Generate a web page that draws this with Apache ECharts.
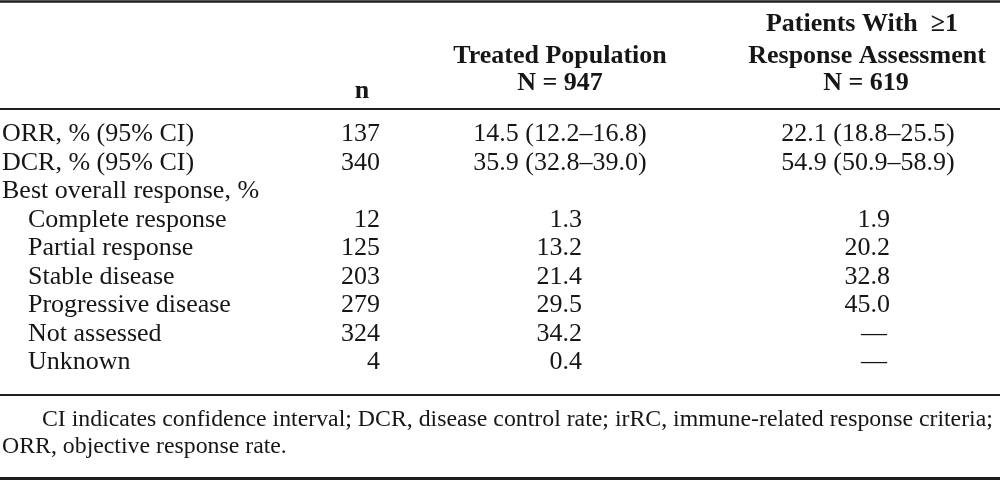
<!DOCTYPE html>
<html>
<head>
<meta charset="utf-8">
<script src="https://cdn.jsdelivr.net/npm/echarts@6/dist/echarts.min.js"></script>
<style>
html,body{margin:0;padding:0;background:#fff;}
#main{width:1000px;height:481px;}
</style>
</head>
<body>
<div id="main"></div>
<script>
// ---- data ----
var rowLabels = ['ORR, % (95% CI)', 'DCR, % (95% CI)', 'Best overall response, %',
  'Complete response', 'Partial response', 'Stable disease', 'Progressive disease',
  'Not assessed', 'Unknown'];
var rowLevel = [0, 0, 0, 1, 1, 1, 1, 1, 1];
var nValues = ['137', '340', '', '12', '125', '203', '279', '324', '4'];
var treatedValues = ['14.5 (12.2–16.8)', '35.9 (32.8–39.0)', '', '1.3', '13.2', '21.4', '29.5', '34.2', '0.4'];
var assessedValues = ['22.1 (18.8–25.5)', '54.9 (50.9–58.9)', '', '1.9', '20.2', '32.8', '45.0', '—', '—'];
var headerN = 'n';
var headerTreated = ['Treated Population', 'N = 947'];
var headerAssessed = ['Patients With  ≥1', 'Response Assessment', 'N = 619'];
var footnote = ['CI indicates confidence interval; DCR, disease control rate; irRC, immune-related response criteria;',
  'ORR, objective response rate.'];

// ---- layout (style only) ----
var FONT = '"Liberation Serif", "DejaVu Serif", serif';
var FS = 26;
var FS_NOTE = 23.8;
var INK = '#161616';
var colX = { label: 2, indent: 28, nRight: 380, tRight: 582, tCenter: 560, aRight: 890, aCenter: 868, aDash: 874 };

var chart = echarts.init(document.getElementById('main'), null, { renderer: 'canvas' });

var data = rowLabels.map(function (l, i) { return [0, i]; });

function cellText(x, y, text, align, bold, size) {
  return {
    type: 'text',
    style: {
      text: text, x: x, y: y,
      align: align, verticalAlign: 'middle',
      textAlign: align, textVerticalAlign: 'middle',
      font: (bold ? 'bold ' : '') + (size || FS) + 'px ' + FONT,
      fill: INK
    }
  };
}

function renderRow(params, api) {
  var i = api.value(1);
  var p = api.coord([0, i]);
  var y = p[1];
  var kids = [];
  kids.push(cellText(rowLevel[i] ? colX.indent : colX.label, y, rowLabels[i], 'left'));
  if (nValues[i]) kids.push(cellText(api.coord([colX.nRight, i])[0], y, nValues[i], 'right'));
  var t = treatedValues[i];
  if (t) {
    if (t.indexOf('(') >= 0) kids.push(cellText(api.coord([colX.tCenter, i])[0], y, t, 'center'));
    else kids.push(cellText(api.coord([colX.tRight, i])[0], y, t, 'right'));
  }
  var a = assessedValues[i];
  if (a) {
    if (a.indexOf('(') >= 0) kids.push(cellText(api.coord([colX.aCenter, i])[0], y, a, 'center'));
    else if (a === '—') kids.push(cellText(api.coord([colX.aDash, i])[0], y, a, 'center'));
    else kids.push(cellText(api.coord([colX.aRight, i])[0], y, a, 'right'));
  }
  return { type: 'group', children: kids };
}

function gText(x, y, text, align, bold, size) {
  var el = cellText(x, y, text, align, bold, size);
  el.silent = true;
  return el;
}
function gLine(y, w) {
  return { type: 'line', shape: { x1: 0, y1: y, x2: 1000, y2: y }, style: { stroke: '#1e1e1e', lineWidth: w }, silent: true };
}

var graphics = [
  gLine(1.5, 2.5),
  gLine(109, 2.2),
  gLine(395, 2.2),
  gLine(478.5, 3),
  gText(362, 91.5, headerN, 'center', true),
  gText(560, 56.5, headerTreated[0], 'center', true),
  gText(560, 83.5, headerTreated[1], 'center', true),
  gText(862, 24.5, headerAssessed[0], 'center', true),
  gText(867, 56.5, headerAssessed[1], 'center', true),
  gText(866, 83.5, headerAssessed[2], 'center', true),
  gText(42, 420, footnote[0], 'left', false, FS_NOTE),
  gText(2, 447, footnote[1], 'left', false, FS_NOTE)
];

chart.setOption({
  animation: false,
  backgroundColor: '#ffffff',
  grid: { left: 0, right: 0, top: 120.25, height: 256.5 },
  xAxis: { type: 'value', min: 0, max: 1000, show: false },
  yAxis: { type: 'category', data: rowLabels, inverse: true, show: false },
  graphic: graphics,
  series: [{
    type: 'custom',
    renderItem: renderRow,
    data: data,
    encode: { x: 0, y: 1 },
    silent: true,
    clip: false
  }]
});
</script>
</body>
</html>
